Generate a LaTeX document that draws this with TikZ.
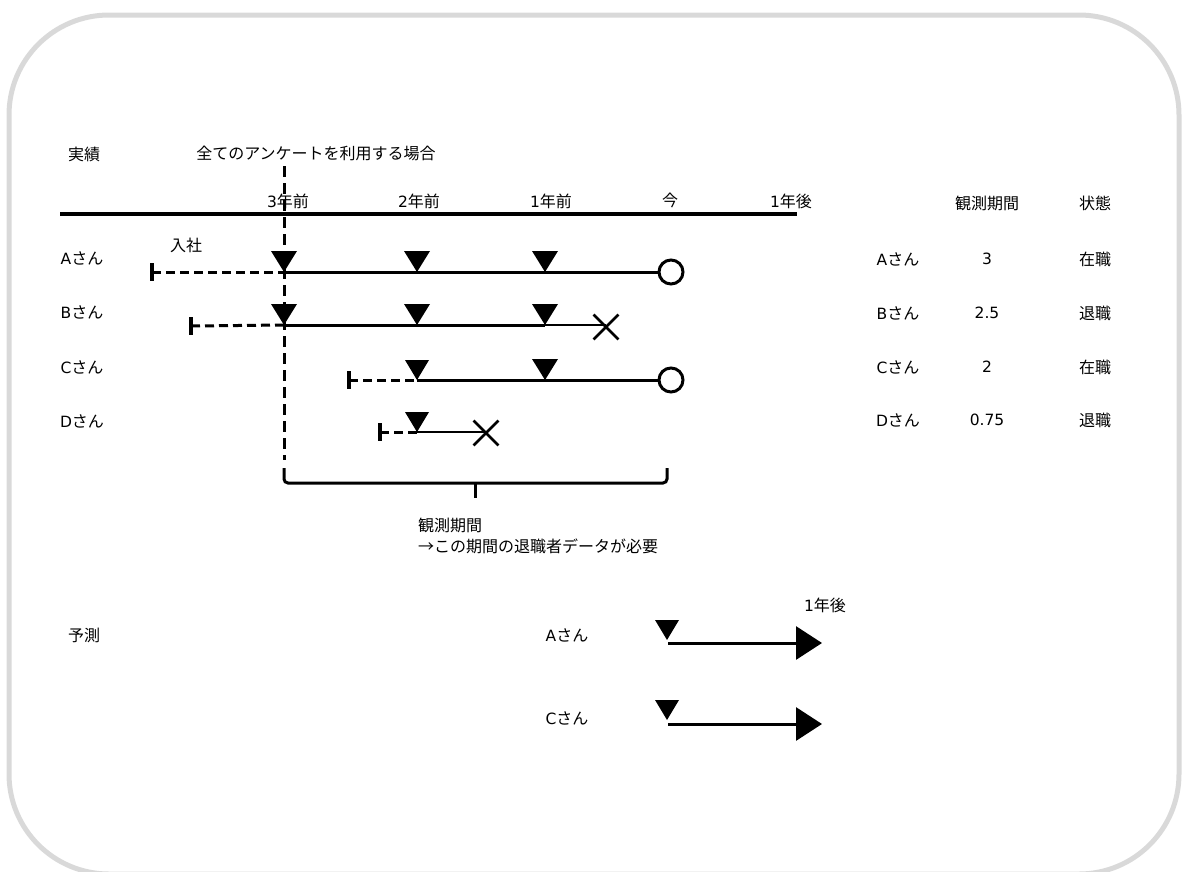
\documentclass[tikz,border=0pt]{standalone}
\usepackage{fontspec}
\setmainfont{Noto Sans CJK JP}
\newfontfamily\latf{DejaVu Sans}
\newcommand{\La}[1]{{\latf\fontsize{15.5}{19}\selectfont #1}}
\usetikzlibrary{arrows.meta,shapes.misc}
\definecolor{framegray}{HTML}{D9D9D9}
\begin{document}
\begin{tikzpicture}[x=1pt,y=-1pt,
  lbl/.style={font=\fontsize{16}{19}\selectfont, inner sep=0pt},
  axisline/.style={line width=4pt},
  solidrow/.style={line width=3pt},
  thinrow/.style={line width=1.8pt},
  dashrow/.style={line width=3pt, dash pattern=on 9pt off 5pt},
  vdash/.style={line width=3pt, dash pattern=on 11pt off 6pt},
  endcirc/.style={circle, draw, line width=3pt, fill=white, minimum size=24pt, inner sep=0pt},
  quitx/.style={cross out, draw, line width=2.8pt, minimum size=22pt, inner sep=0pt},
  dtri/.pic={\fill (-13,-21) -- (13,-21) -- (0,0) -- cycle;},
  dtris/.pic={\fill (-12,-20) -- (12,-20) -- (0,0) -- cycle;},
  tickmk/.pic={\draw[line width=4pt] (0,-9) -- (0,9);},
  predarrow/.style={line width=3pt, -{Triangle[length=26pt,width=33pt]}}
]
\useasboundingbox (0,0) rectangle (1186,871);
% frame
\draw[framegray, line width=5pt, rounded corners=100pt] (9,15) rectangle (1179,874);

% headings
\node[lbl] (jisseki) at (84,154) {実績};
\node[lbl] (title) at (316,153) {全てのアンケートを利用する場合};

% axis
\coordinate (ax0) at (60,214);
\coordinate (ax1) at (797,214);
\draw[axisline] (ax0) -- (ax1);
\node[lbl] (t3) at (288,201) {\La{3}年前};
\node[lbl] (t2) at (419,201) {\La{2}年前};
\node[lbl] (t1) at (551,201) {\La{1}年前};
\node[lbl] (t0) at (670,200) {今};
\node[lbl] (tp1) at (791,201) {\La{1}年後};

% vertical dashed line at 3 years ago
\coordinate (vtop) at (284,166);
\coordinate (vbot) at (284,460);
\draw[vdash] (vtop) -- (vbot);

% row labels
\node[lbl] (lA) at (82,258) {\La{A}さん};
\node[lbl] (lB) at (82,312) {\La{B}さん};
\node[lbl] (lC) at (82,367) {\La{C}さん};
\node[lbl] (lD) at (82,421) {\La{D}さん};
\node[lbl] (nyusha) at (186,245) {入社};

% Row A
\coordinate (sA) at (152,272);
\coordinate (a3) at (284,272);
\coordinate (a2) at (417,272);
\coordinate (a1) at (545,272);
\node[endcirc] (eA) at (671,272) {};
\draw[dashrow] (sA) -- (a3);
\draw[solidrow] (a3) -- (eA.west);
\pic at (sA) {tickmk};
\pic at (a3) {dtri};
\pic at (a2) {dtri};
\pic at (a1) {dtri};

% Row B
\coordinate (sB) at (191,326);
\coordinate (b3) at (284,325);
\coordinate (b2) at (417,325);
\coordinate (b1) at (545,325);
\node[quitx] (xB) at (606,327) {};
\draw[dashrow] (sB) -- (b3);
\draw[solidrow] (b3) -- (b1);
\draw[thinrow] (b1) -- (xB.center |- b1);
\pic at (sB) {tickmk};
\pic at (b3) {dtri};
\pic at (b2) {dtri};
\pic at (b1) {dtri};

% Row C
\coordinate (sC) at (349,380);
\coordinate (c2) at (417,380);
\coordinate (c1) at (545,380);
\node[endcirc] (eC) at (671,380) {};
\draw[dashrow] (sC) -- (c2);
\draw[solidrow] (c2) -- (eC.west);
\pic at (sC) {tickmk};
\pic at (c2) {dtris};
\pic at (c1) {dtri};

% Row D
\coordinate (sD) at (380,432);
\coordinate (d2) at (417,432);
\node[quitx] (xD) at (486,433) {};
\draw[dashrow] (sD) -- (d2);
\draw[thinrow] (d2) -- (xD.center |- d2);
\pic at (sD) {tickmk};
\pic at (d2) {dtris};

% bracket
\coordinate (brL) at (284,468);
\coordinate (brR) at (667,468);
\coordinate (brM) at (475,483);
\coordinate (brMb) at (475,498);
\draw[line width=3pt, rounded corners=4pt] (brL) -- (284,483) -- (667,483) -- (brR);
\draw[line width=3pt] (brM) -- (brMb);
\node[lbl, anchor=west] (obs) at (418,525) {観測期間};
\node[lbl, anchor=west] (need) at (418,546) {→この期間の退職者データが必要};

% table on right
\node[lbl] (hObs) at (987,203) {観測期間};
\node[lbl] (hSt) at (1095,203) {状態};
\node[lbl] (rA) at (898,259) {\La{A}さん};
\node[lbl] (vA) at (987,259) {\La{3}};
\node[lbl] (sAst) at (1095,259) {在職};
\node[lbl] (rB) at (898,313) {\La{B}さん};
\node[lbl] (vB) at (987,313) {\La{2.5}};
\node[lbl] (sBst) at (1095,313) {退職};
\node[lbl] (rC) at (898,367) {\La{C}さん};
\node[lbl] (vC) at (987,367) {\La{2}};
\node[lbl] (sCst) at (1095,367) {在職};
\node[lbl] (rD) at (898,420) {\La{D}さん};
\node[lbl] (vD) at (987,420) {\La{0.75}};
\node[lbl] (sDst) at (1095,420) {退職};

% prediction
\node[lbl] (yosoku) at (84,635) {予測};
\node[lbl] (pA) at (567,635) {\La{A}さん};
\node[lbl] (pC) at (567,718) {\La{C}さん};
\node[lbl] (p1) at (825,605) {\La{1}年後};
\coordinate (pAs) at (668,643);
\coordinate (pAe) at (822,643);
\coordinate (pCs) at (668,724);
\coordinate (pCe) at (822,724);
\draw[predarrow] (pAs) -- (pAe);
\draw[predarrow] (pCs) -- (pCe);
\pic at (667,640) {dtris};
\pic at (667,720) {dtris};
\end{tikzpicture}
\end{document}
